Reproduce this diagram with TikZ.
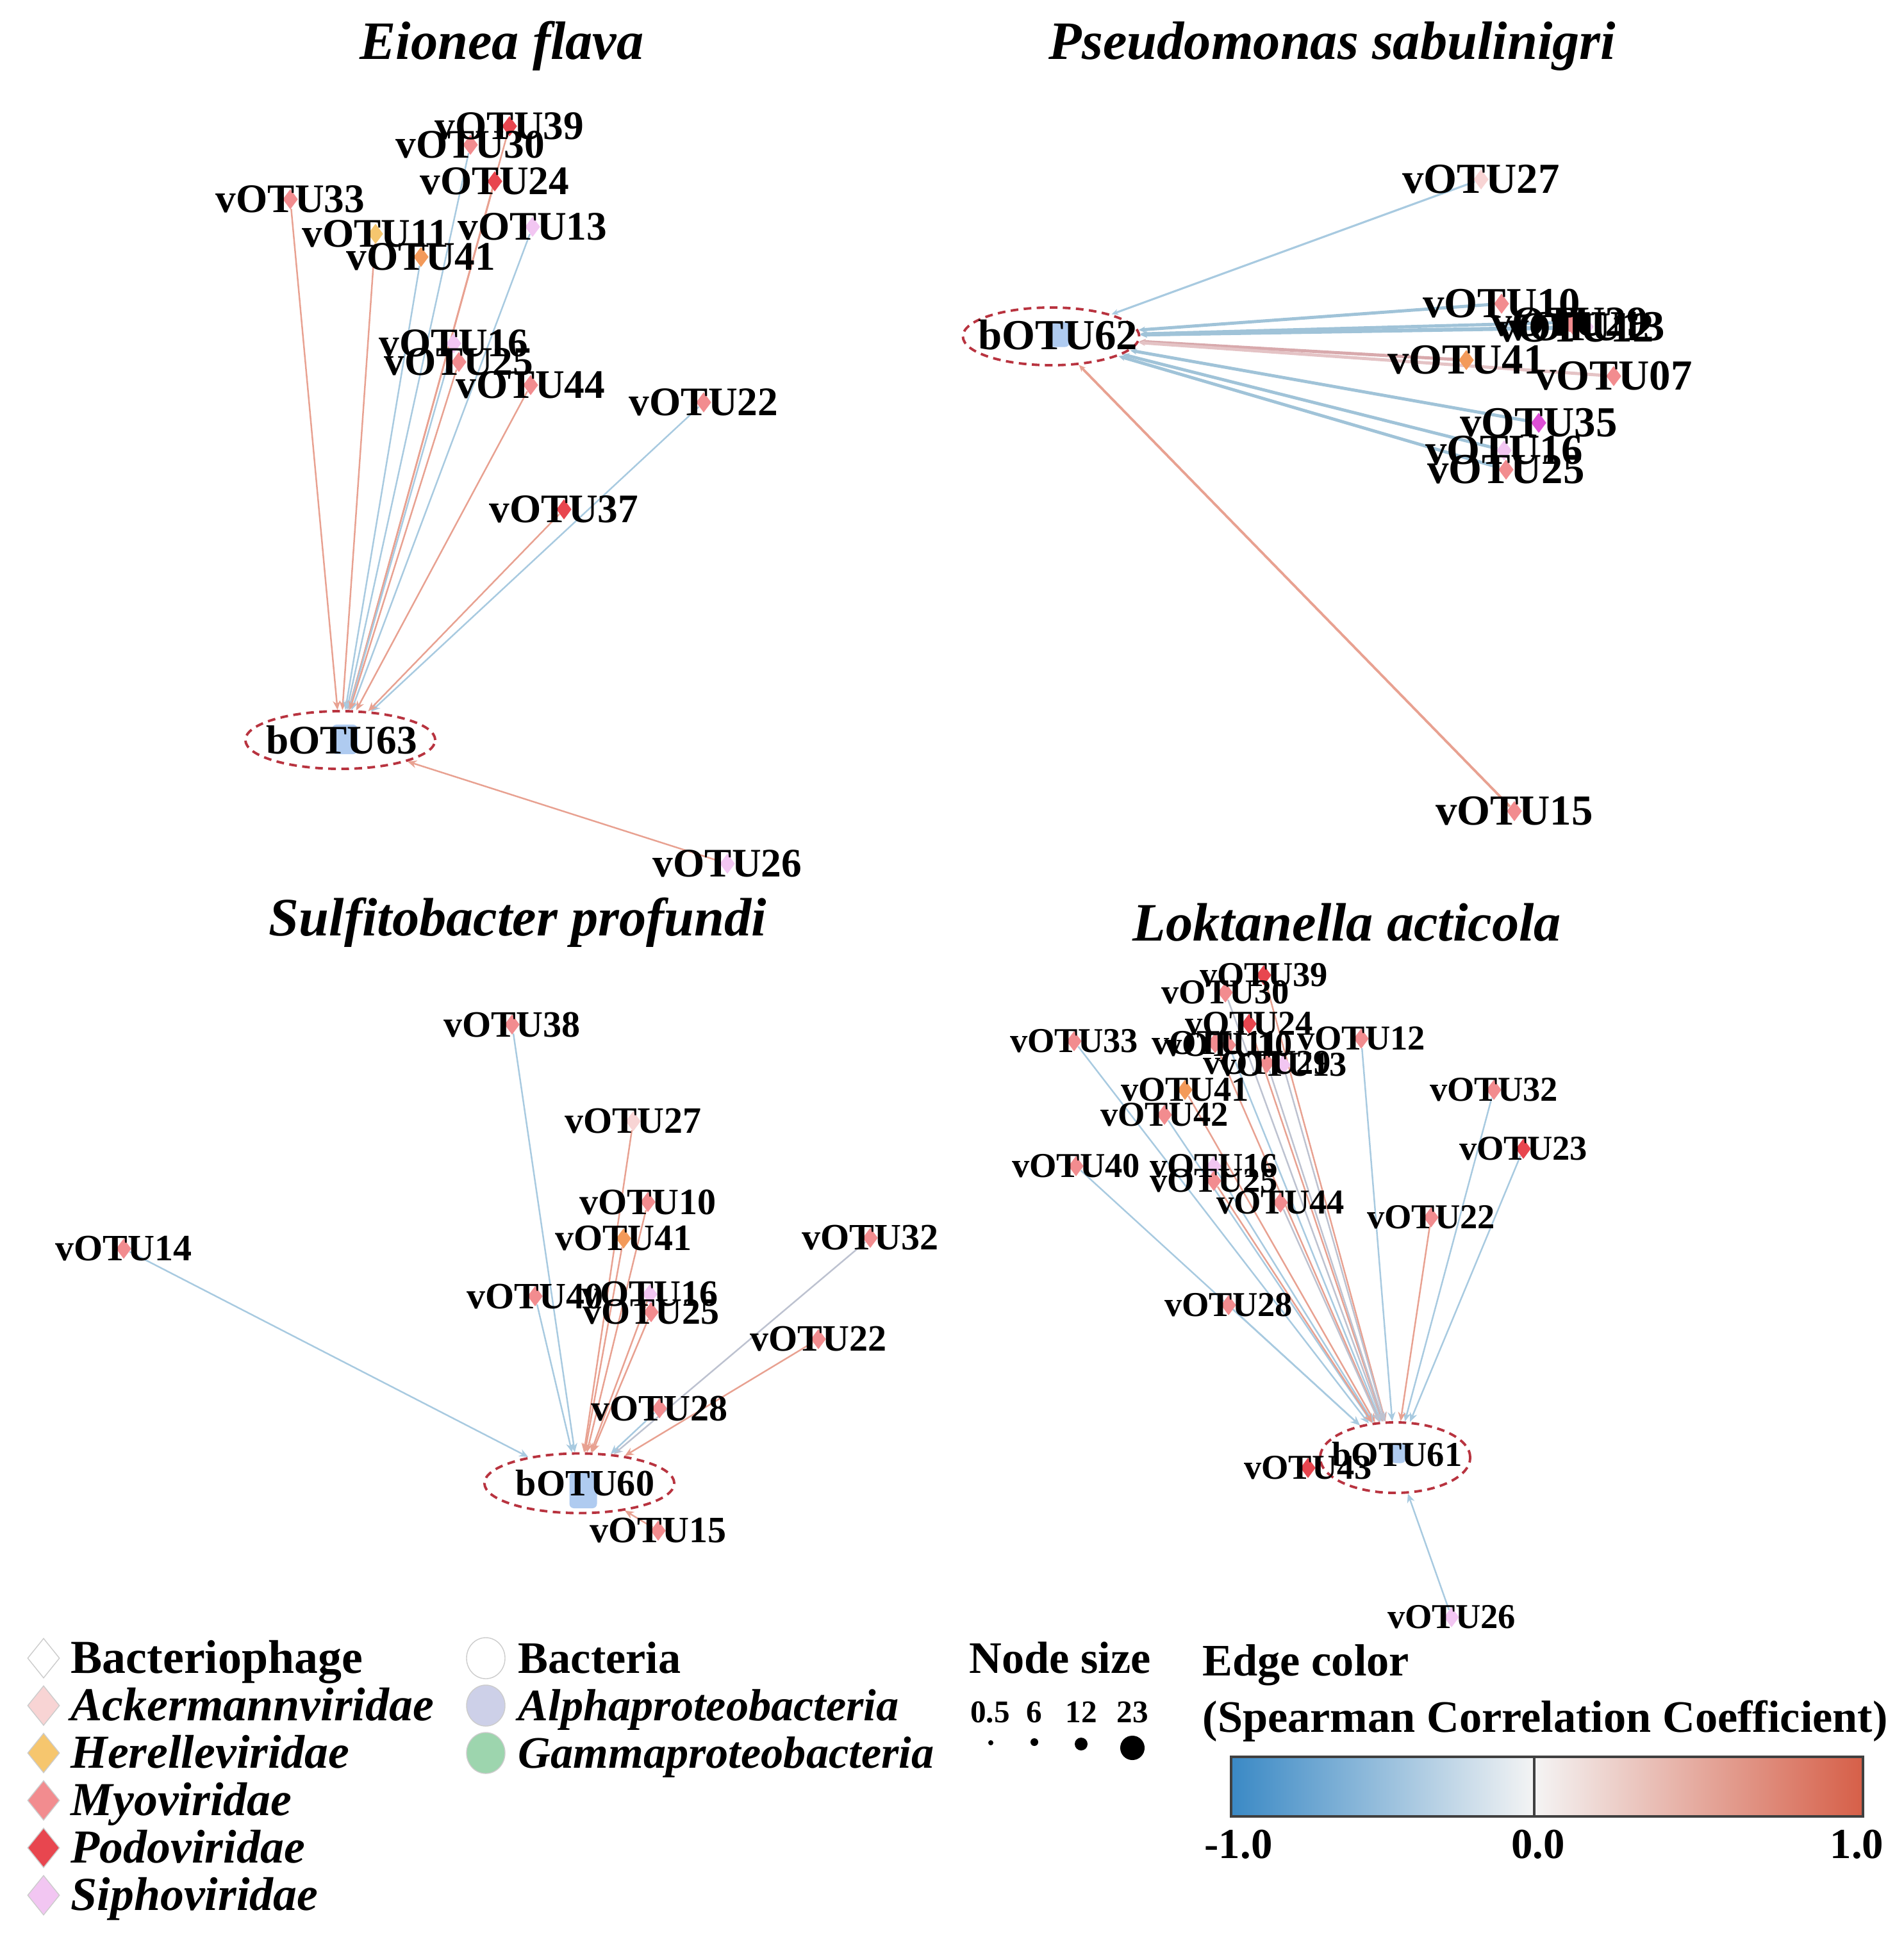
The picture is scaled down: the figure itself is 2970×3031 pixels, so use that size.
\documentclass[tikz,border=0pt]{standalone}
\usepackage{fontspec}
\setmainfont{Liberation Serif}
\usetikzlibrary{shapes.geometric,arrows.meta}
\pgfdeclarelayer{bg}
\pgfdeclarelayer{mid}
\pgfsetlayers{bg,mid,main}
\definecolor{ack}{HTML}{F8D4D4}
\definecolor{her}{HTML}{F6C66E}
\definecolor{myo}{HTML}{F28C8F}
\definecolor{podo}{HTML}{E8464F}
\definecolor{sipho}{HTML}{F2C6F2}
\definecolor{orng}{HTML}{F39A5A}
\definecolor{mag}{HTML}{DE4FD6}
\definecolor{eb}{HTML}{A8CAE0}
\definecolor{er}{HTML}{E8A191}
\definecolor{eg}{HTML}{BDC2D0}
\definecolor{ebb}{HTML}{A0C3D8}
\definecolor{erb}{HTML}{D8A9AC}
\definecolor{ellc}{HTML}{B8333F}
\definecolor{bblue}{HTML}{AFCBF0}
\definecolor{alphac}{HTML}{CDD0E8}
\definecolor{gammac}{HTML}{9DD5AE}
\definecolor{cbl}{HTML}{3A89C5}
\definecolor{cbm}{HTML}{F4F4F4}
\definecolor{cbr}{HTML}{D65F48}
\newcommand{\vtx}[5]{\begin{pgfonlayer}{mid}\node[vd,fill=#3] (#1) at #2 {};\end{pgfonlayer}\node[#5] (#1t) at #2 {#4};}
\newcommand{\lk}[3]{\draw[lnk,#3] (#1) -- (#2);}
\begin{document}
\begin{tikzpicture}[x=0.01cm,y=-0.01cm,
  vd/.style={diamond,inner sep=0pt,minimum width=0.24cm,minimum height=0.32cm,draw=none},
  labA/.style={font=\fontsize{18}{20}\selectfont\bfseries,inner sep=0pt},
  labB/.style={font=\fontsize{19}{21}\selectfont\bfseries,inner sep=0pt},
  labC/.style={font=\fontsize{16.5}{18}\selectfont\bfseries,inner sep=0pt},
  labD/.style={font=\fontsize{15.5}{17}\selectfont\bfseries,inner sep=0pt},
  ttl/.style={font=\fontsize{24}{26}\selectfont\bfseries\itshape,inner sep=0pt},
  bell/.style={ellipse,draw=ellc,line width=1.1pt,dash pattern=on 3.4pt off 2.4pt,inner sep=0pt},
  bsq/.style={rectangle,rounded corners=2pt,fill=bblue,inner sep=0pt},
  lnk/.style={line width=0.7pt,-{Stealth[length=4pt,width=3.4pt]}},
  thk/.style={line width=1.4pt,-{Stealth[length=3pt,width=2.6pt]}},
  legt/.style={font=\fontsize{21}{23}\selectfont\bfseries,inner sep=0pt,anchor=base west},
  legi/.style={font=\fontsize{21}{23}\selectfont\bfseries\itshape,inner sep=0pt,anchor=base west},
  legm/.style={font=\fontsize{20}{22}\selectfont\bfseries,inner sep=0pt,anchor=base west},
  legmi/.style={font=\fontsize{20}{22}\selectfont\bfseries\itshape,inner sep=0pt,anchor=base west},
  legd/.style={diamond,inner sep=0pt,minimum width=0.5cm,minimum height=0.62cm,draw=gray!40,line width=0.4pt},
  legc/.style={ellipse,inner sep=0pt,minimum width=0.6cm,minimum height=0.64cm,draw=gray!40,line width=0.4pt},
  numt/.style={font=\fontsize{14}{16}\selectfont\bfseries,inner sep=0pt},
  dotn/.style={circle,fill=black,inner sep=0pt}
]
\useasboundingbox (0,0) rectangle (2970,3031);

% ---------------- titles
\node[ttl] (t1) at (783,72) {Eionea flava};
\node[ttl] (t2) at (2079,72) {Pseudomonas sabulinigri};
\node[ttl] (t3) at (808,1440) {Sulfitobacter profundi};
\node[ttl] (t4) at (2102,1440) {Loktanella acticola};

% ---------------- panel 1
\node[bsq,minimum width=0.4cm,minimum height=0.46cm] (B63s) at (538,1154) {};
\node[bell,minimum width=2.96cm,minimum height=0.9cm] (B63) at (531,1155) {};
\node[labA] (B63t) at (533,1155) {bOTU63};
\vtx{a39}{(795,197)}{podo}{vOTU39}{labA}
\vtx{a30}{(734,226)}{myo}{vOTU30}{labA}
\vtx{a24}{(772,283)}{podo}{vOTU24}{labA}
\vtx{a33}{(453,311)}{myo}{vOTU33}{labA}
\vtx{a11}{(586,365)}{her}{vOTU11}{labA}
\vtx{a13}{(831,354)}{sipho}{vOTU13}{labA}
\vtx{a41}{(657,401)}{orng}{vOTU41}{labA}
\vtx{a16}{(708,536)}{sipho}{vOTU16}{labA}
\vtx{a25}{(716,565)}{myo}{vOTU25}{labA}
\vtx{a44}{(828,601)}{myo}{vOTU44}{labA}
\vtx{a22}{(1098,628)}{myo}{vOTU22}{labA}
\vtx{a37}{(880,795)}{podo}{vOTU37}{labA}
\vtx{a26}{(1135,1348)}{sipho}{vOTU26}{labA}

% ---------------- panel 2
\node[bsq,minimum width=0.32cm,minimum height=0.39cm] (B62s) at (1653,522) {};
\node[bell,minimum width=2.75cm,minimum height=0.9cm] (B62) at (1640,525) {};
\node[labB] (B62t) at (1651,523) {bOTU62};
\vtx{b27}{(2311,280)}{ack}{vOTU27}{labB}
\vtx{b10}{(2343,474)}{myo}{vOTU10}{labB}
\vtx{b29}{(2449,503)}{myo}{vOTU29}{labB}
\vtx{b12}{(2458,512)}{myo}{vOTU12}{labB}
\vtx{b13}{(2475,510)}{sipho}{vOTU13}{labB}
\vtx{b41}{(2288,562)}{orng}{vOTU41}{labB}
\vtx{b07}{(2518,587)}{myo}{vOTU07}{labB}
\vtx{b35}{(2401,660)}{mag}{vOTU35}{labB}
\vtx{b16}{(2347,703)}{sipho}{vOTU16}{labB}
\vtx{b25}{(2350,733)}{myo}{vOTU25}{labB}
\vtx{b15}{(2363,1266)}{myo}{vOTU15}{labB}

% ---------------- panel 3
\node[bsq,minimum width=0.43cm,minimum height=0.56cm] (B60s) at (910,2326) {};
\node[bell,minimum width=2.96cm,minimum height=0.93cm] (B60) at (904,2315) {};
\node[labC] (B60t) at (913,2315) {bOTU60};
\vtx{c38}{(799,1599)}{myo}{vOTU38}{labC}
\vtx{c27}{(988,1750)}{ack}{vOTU27}{labC}
\vtx{c10}{(1011,1876)}{myo}{vOTU10}{labC}
\vtx{c41}{(973,1933)}{orng}{vOTU41}{labC}
\vtx{c14}{(193,1949)}{myo}{vOTU14}{labC}
\vtx{c32}{(1358,1932)}{myo}{vOTU32}{labC}
\vtx{c40}{(835,2023)}{myo}{vOTU40}{labC}
\vtx{c16}{(1014,2020)}{sipho}{vOTU16}{labC}
\vtx{c25}{(1016,2048)}{myo}{vOTU25}{labC}
\vtx{c22}{(1277,2090)}{myo}{vOTU22}{labC}
\vtx{c28}{(1029,2198)}{myo}{vOTU28}{labC}
\vtx{c15}{(1027,2389)}{myo}{vOTU15}{labC}

% ---------------- panel 4
\node[bsq,minimum width=0.23cm,minimum height=0.31cm] (B61s) at (2182,2268) {};
\node[bell,minimum width=2.34cm,minimum height=1.1cm] (B61) at (2177,2275) {};
\vtx{d43}{(2041,2291)}{podo}{vOTU43}{labD}
\node[labD] (B61t) at (2180,2270) {bOTU61};
\vtx{d39}{(1972,1522)}{podo}{vOTU39}{labD}
\vtx{d30}{(1912,1549)}{myo}{vOTU30}{labD}
\vtx{d24}{(1949,1598)}{podo}{vOTU24}{labD}
\vtx{d33}{(1676,1625)}{myo}{vOTU33}{labD}
\vtx{d11}{(1896,1628)}{myo}{vOTU11}{labD}
\vtx{d10}{(1917,1631)}{myo}{vOTU10}{labD}
\vtx{d12}{(2124,1621)}{myo}{vOTU12}{labD}
\vtx{d29}{(1977,1659)}{myo}{vOTU29}{labD}
\vtx{d13}{(2002,1662)}{sipho}{vOTU13}{labD}
\vtx{d41}{(1849,1701)}{orng}{vOTU41}{labD}
\vtx{d42}{(1817,1740)}{myo}{vOTU42}{labD}
\vtx{d32}{(2331,1701)}{myo}{vOTU32}{labD}
\vtx{d23}{(2377,1793)}{podo}{vOTU23}{labD}
\vtx{d40}{(1679,1820)}{myo}{vOTU40}{labD}
\vtx{d16}{(1894,1820)}{sipho}{vOTU16}{labD}
\vtx{d25}{(1894,1843)}{myo}{vOTU25}{labD}
\vtx{d44}{(1998,1877)}{myo}{vOTU44}{labD}
\vtx{d22}{(2233,1900)}{myo}{vOTU22}{labD}
\vtx{d28}{(1917,2037)}{myo}{vOTU28}{labD}
\vtx{d26}{(2265,2524)}{sipho}{vOTU26}{labD}

% ---------------- edges
\begin{pgfonlayer}{bg}
\lk{a39}{B63}{er}\lk{a30}{B63}{eb}\lk{a24}{B63}{er}\lk{a33}{B63}{er}
\lk{a11}{B63}{er}\lk{a13}{B63}{eb}\lk{a41}{B63}{eb}\lk{a16}{B63}{eb}
\lk{a25}{B63}{er}\lk{a44}{B63}{er}\lk{a22}{B63}{eb}\lk{a37}{B63}{er}
\lk{a26}{B63}{er}
\lk{b27}{B62}{eb,thk,line width=0.9pt}\lk{b10}{B62}{ebb,thk}\lk{b29}{B62}{ebb,thk}
\lk{b12}{B62}{ebb,thk}\lk{b13}{B62}{ebb,thk}\lk{b41}{B62}{erb,thk}
\lk{b07}{B62}{erb!70,thk}\lk{b35}{B62}{ebb,thk}\lk{b16}{B62}{ebb,thk}
\lk{b25}{B62}{ebb,thk}\lk{b15}{B62}{er,thk,line width=1.1pt}
\lk{c38}{B60}{eb}\lk{c27}{B60}{er}\lk{c10}{B60}{er}\lk{c41}{B60}{er}
\lk{c14}{B60}{eb}\lk{c32}{B60}{eg}\lk{c40}{B60}{eb}\lk{c16}{B60}{er}
\lk{c25}{B60}{er}\lk{c22}{B60}{er}\lk{c28}{B60}{eb}\lk{c15}{B60}{er}
\lk{d39}{B61}{er}\lk{d30}{B61}{eg}\lk{d24}{B61}{er}\lk{d33}{B61}{eb}
\lk{d11}{B61}{er}\lk{d10}{B61}{eb}\lk{d12}{B61}{eb}\lk{d29}{B61}{eg}
\lk{d13}{B61}{eg}\lk{d41}{B61}{er}\lk{d42}{B61}{eb}\lk{d32}{B61}{eb}
\lk{d23}{B61}{eb}\lk{d40}{B61}{eb}\lk{d16}{B61}{eb}\lk{d25}{B61}{er}
\lk{d44}{B61}{eg}\lk{d22}{B61}{er}\lk{d28}{B61}{eb}\lk{d26}{B61}{eb}
\end{pgfonlayer}

% ---------------- legend: bacteriophage
\node[legd,fill=white] (L1) at (68,2588) {};
\node[legt] (L1t) at (110,2611) {Bacteriophage};
\node[legd,fill=ack] (L2) at (68,2662) {};
\node[legi] (L2t) at (110,2685) {Ackermannviridae};
\node[legd,fill=her] (L3) at (68,2736) {};
\node[legi] (L3t) at (110,2759) {Herelleviridae};
\node[legd,fill=myo] (L4) at (68,2810) {};
\node[legi] (L4t) at (110,2833) {Myoviridae};
\node[legd,fill=podo] (L5) at (68,2884) {};
\node[legi] (L5t) at (110,2907) {Podoviridae};
\node[legd,fill=sipho] (L6) at (68,2958) {};
\node[legi] (L6t) at (110,2981) {Siphoviridae};
% bacteria
\node[legc,fill=white] (M1) at (758,2588) {};
\node[legm] (M1t) at (808,2611) {Bacteria};
\node[legc,fill=alphac] (M2) at (758,2662) {};
\node[legmi] (M2t) at (808,2685) {Alphaproteobacteria};
\node[legc,fill=gammac] (M3) at (758,2736) {};
\node[legmi] (M3t) at (808,2759) {Gammaproteobacteria};
% node size
\node[legm] (N0) at (1512,2611) {Node size};
\node[numt] (N1) at (1545,2672) {0.5};
\node[numt] (N2) at (1614,2672) {6};
\node[numt] (N3) at (1687,2672) {12};
\node[numt] (N4) at (1767,2672) {23};
\node[dotn,minimum size=0.08cm] (D1) at (1546,2720) {};
\node[dotn,minimum size=0.12cm] (D2) at (1614,2719) {};
\node[dotn,minimum size=0.2cm] (D3) at (1687,2722) {};
\node[dotn,minimum size=0.38cm] (D4) at (1767,2728) {};
% edge color
\node[legm] (E0) at (1876,2615) {Edge color};
\node[legm] (E1) at (1876,2703) {(Spearman Correlation Coefficient)};
\shade[left color=cbl,right color=cbm] (1921,2742) rectangle (2394,2835);
\shade[left color=cbm,right color=cbr] (2394,2742) rectangle (2907,2835);
\draw[line width=1.3pt,black!75] (1921,2742) rectangle (2907,2835);
\draw[line width=1.1pt,black!75] (2394,2742) -- (2394,2835);
\node[legt,font=\fontsize{19}{21}\selectfont\bfseries] (E2) at (1879,2900) {-1.0};
\node[font=\fontsize{19}{21}\selectfont\bfseries,inner sep=0pt,anchor=base] (E3) at (2400,2900) {0.0};
\node[font=\fontsize{19}{21}\selectfont\bfseries,inner sep=0pt,anchor=base east] (E4) at (2940,2900) {1.0};
\end{tikzpicture}
\end{document}
